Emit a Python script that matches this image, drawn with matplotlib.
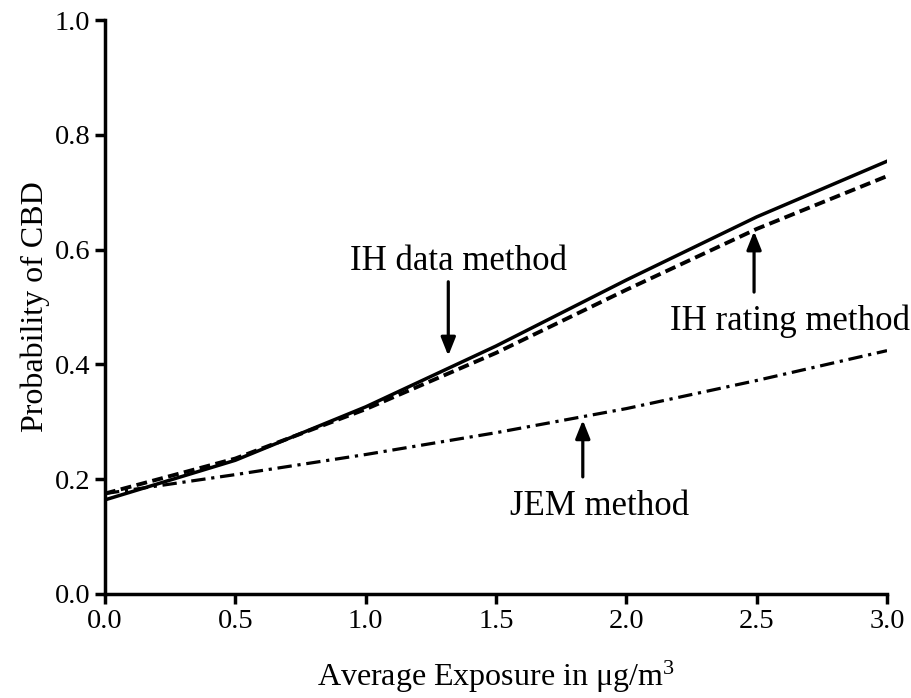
import matplotlib
matplotlib.use("Agg")
import matplotlib.pyplot as plt

# Dados
exposicao = [0.0, 0.5, 1.0, 1.5, 2.0, 2.5, 3.0]
ih_data = [0.164, 0.233, 0.326, 0.432, 0.547, 0.657, 0.754]
ih_rating = [0.175, 0.236, 0.322, 0.420, 0.530, 0.636, 0.728]
jem = [0.175, 0.208, 0.243, 0.281, 0.323, 0.372, 0.424]

xticks = [0.0, 0.5, 1.0, 1.5, 2.0, 2.5, 3.0]
yticks = [0.0, 0.2, 0.4, 0.6, 0.8, 1.0]

plt.rcParams['font.family'] = ['Liberation Serif', 'DejaVu Serif']
plt.rcParams['mathtext.fontset'] = 'custom'
plt.rcParams['mathtext.rm'] = 'Liberation Serif'

fig = plt.figure(figsize=(9.12, 6.98), dpi=100)
ax = fig.add_axes([0.1151, 0.149, 0.8575, 0.8223])

ax.plot(exposicao, ih_data, color='black', lw=2.5, solid_joinstyle='miter')
ax.plot(exposicao, ih_rating, color='black', lw=2.8, linestyle=(0, (2.8, 1.4)))
ax.plot(exposicao, jem, color='black', lw=2.3, linestyle=(0, (4.5, 1.8, 1.0, 1.8)))

ax.set_xlim(0, 3)
ax.set_ylim(0, 1)
ax.set_xticks(xticks)
ax.set_yticks(yticks)
ax.set_xticklabels([f'{v:.1f}' for v in xticks])
ax.set_yticklabels([f'{v:.1f}' for v in yticks])

for lado in ['top', 'right']:
    ax.spines[lado].set_visible(False)
for lado in ['left', 'bottom']:
    ax.spines[lado].set_linewidth(2.5)
ax.tick_params(width=2.5, length=7.5, direction='out', labelsize=20.5, pad=3)

ax.set_xlabel('Average Exposure in \u03bcg/m$\\mathrm{^3}$', fontsize=23, labelpad=18)
ax.set_ylabel('Probability of CBD', fontsize=23, labelpad=3)

seta = dict(arrowstyle='-|>,head_length=0.55,head_width=0.22', color='black',
            lw=2.3, mutation_scale=20, shrinkA=0, shrinkB=0)

# IH data
ax.annotate('', xy=(1.317, 0.415), xytext=(1.317, 0.544), arrowprops=seta)
ax.text(1.358, 0.564, 'IH data method', ha='center', va='baseline', fontsize=25)
# IH rating
ax.annotate('', xy=(2.49, 0.632), xytext=(2.49, 0.526), arrowprops=seta)
ax.text(2.628, 0.46, 'IH rating method', ha='center', va='baseline', fontsize=25)
# JEM
ax.annotate('', xy=(1.833, 0.303), xytext=(1.833, 0.204), arrowprops=seta)
ax.text(1.899, 0.138, 'JEM method', ha='center', va='baseline', fontsize=25)

plt.savefig('out.png', dpi=100, facecolor='white')
